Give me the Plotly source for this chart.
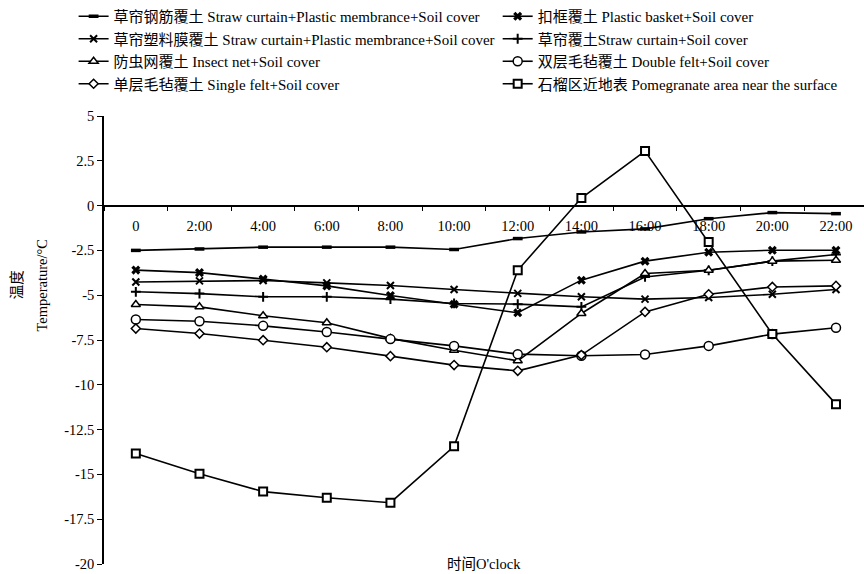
import plotly.graph_objects as go

x_labels = ["0", "2:00", "4:00", "6:00", "8:00", "10:00", "12:00", "14:00", "16:00", "18:00", "20:00", "22:00"]

s_straw_plastic_steel = [-2.50, -2.42, -2.32, -2.32, -2.32, -2.45, -1.84, -1.47, -1.30, -0.73, -0.39, -0.45]
s_basket = [-3.60, -3.74, -4.10, -4.48, -5.02, -5.50, -5.98, -4.16, -3.10, -2.60, -2.49, -2.49]
s_straw_plastic = [-4.26, -4.20, -4.18, -4.31, -4.46, -4.68, -4.90, -5.09, -5.22, -5.13, -4.95, -4.68]
s_straw = [-4.81, -4.91, -5.09, -5.09, -5.22, -5.46, -5.50, -5.65, -3.98, -3.61, -3.10, -2.73]
s_insect_net = [-5.52, -5.65, -6.15, -6.54, -7.41, -8.07, -8.66, -6.02, -3.79, -3.61, -3.10, -3.05]
s_double_felt = [-6.36, -6.45, -6.71, -7.05, -7.45, -7.83, -8.29, -8.38, -8.31, -7.83, -7.17, -6.82]
s_single_felt = [-6.86, -7.14, -7.51, -7.90, -8.40, -8.90, -9.22, -8.34, -5.93, -4.95, -4.54, -4.48]
s_pomegranate = [-13.83, -14.96, -15.96, -16.30, -16.58, -13.43, -3.61, 0.42, 3.04, -2.03, -7.17, -11.08]

names = [
    "草帘钢筋覆土 Straw curtain+Plastic membrance+Soil cover",
    "扣框覆土 Plastic basket+Soil cover",
    "草帘塑料膜覆土 Straw curtain+Plastic membrance+Soil cover",
    "草帘覆土Straw curtain+Soil cover",
    "防虫网覆土 Insect net+Soil cover",
    "双层毛毡覆土 Double felt+Soil cover",
    "单层毛毡覆土 Single felt+Soil cover",
    "石榴区近地表 Pomegranate area near the surface",
]

y_tick_vals = [5, 2.5, 0, -2.5, -5, -7.5, -10, -12.5, -15, -17.5, -20]
y_tick_text = ["5", "2.5", "0", "-2.5", "-5", "-7.5", "-10", "-12.5", "-15", "-17.5", "-20"]

FONT = "Liberation Serif, Times New Roman, Noto Sans CJK SC, serif"
BLACK = "#000000"

series = [s_straw_plastic_steel, s_basket, s_straw_plastic, s_straw,
          s_insect_net, s_double_felt, s_single_felt, s_pomegranate]

markers = [
    dict(symbol="line-ew", size=7, color=BLACK, line=dict(color=BLACK, width=3.5)),
    dict(symbol="x", size=8, color=BLACK, line=dict(color=BLACK, width=0)),
    dict(symbol="x-thin", size=7, color=BLACK, line=dict(color=BLACK, width=2)),
    dict(symbol="cross-thin", size=7, color=BLACK, line=dict(color=BLACK, width=2)),
    dict(symbol="triangle-up", size=8, color="white", line=dict(color=BLACK, width=1.5)),
    dict(symbol="circle", size=9, color="white", line=dict(color=BLACK, width=1.5)),
    dict(symbol="diamond", size=7, color="white", line=dict(color=BLACK, width=1.5)),
    dict(symbol="square", size=8, color="white", line=dict(color=BLACK, width=2)),
]

fig = go.Figure()
for i, (ys, nm, mk) in enumerate(zip(series, names, markers)):
    fig.add_trace(go.Scatter(
        x=x_labels, y=ys, name=nm, mode="lines+markers",
        line=dict(color=BLACK, width=1.6), marker=mk,
        legend="legend" if i % 2 == 0 else "legend2",
        legendgroup=f"g{i}",
    ))

legend_common = dict(
    font=dict(family=FONT, size=15, color=BLACK),
    bgcolor="rgba(0,0,0,0)", borderwidth=0,
    orientation="v", yanchor="top", xanchor="left",
    tracegroupgap=0, itemwidth=30,
)

fig.update_layout(
    width=864, height=574,
    margin=dict(l=104, r=0, t=116, b=10),
    paper_bgcolor="white", plot_bgcolor="white",
    font=dict(family=FONT, size=14, color=BLACK),
    showlegend=True,
    legend=dict(x=-0.04, y=1.26, **legend_common),
    legend2=dict(x=0.518, y=1.26, **legend_common),
    xaxis=dict(
        type="category", range=[-0.5, 11.44],
        anchor="free", position=0.8,
        showline=True, linecolor=BLACK, linewidth=1.5,
        ticks="outside", ticklen=5, tickwidth=1.2, tickcolor=BLACK,
        tickson="boundaries", showgrid=False, zeroline=False,
        ticklabelstandoff=7,
        tickfont=dict(family=FONT, size=14.5, color=BLACK),
    ),
    yaxis=dict(
        range=[-20, 5], tickvals=y_tick_vals, ticktext=y_tick_text,
        showline=True, linecolor=BLACK, linewidth=1.5,
        ticks="outside", ticklen=5, tickwidth=1.2, tickcolor=BLACK,
        showgrid=False, zeroline=False,
        tickfont=dict(family=FONT, size=14.5, color=BLACK),
    ),
    annotations=[
        dict(text="时间O'clock", xref="paper", yref="paper", x=0.50, y=0.0,
             xanchor="center", yanchor="middle", showarrow=False,
             font=dict(family=FONT, size=14.5, color=BLACK)),
        dict(text="温度", xref="paper", yref="paper", x=-0.114, y=0.623,
             xanchor="center", yanchor="middle", showarrow=False, textangle=-90,
             font=dict(family=FONT, size=14.5, color=BLACK)),
        dict(text="Temperature/°C", xref="paper", yref="paper", x=-0.082, y=0.623,
             xanchor="center", yanchor="middle", showarrow=False, textangle=-90,
             font=dict(family=FONT, size=14.5, color=BLACK)),
    ],
)

fig.write_html("out.html")
